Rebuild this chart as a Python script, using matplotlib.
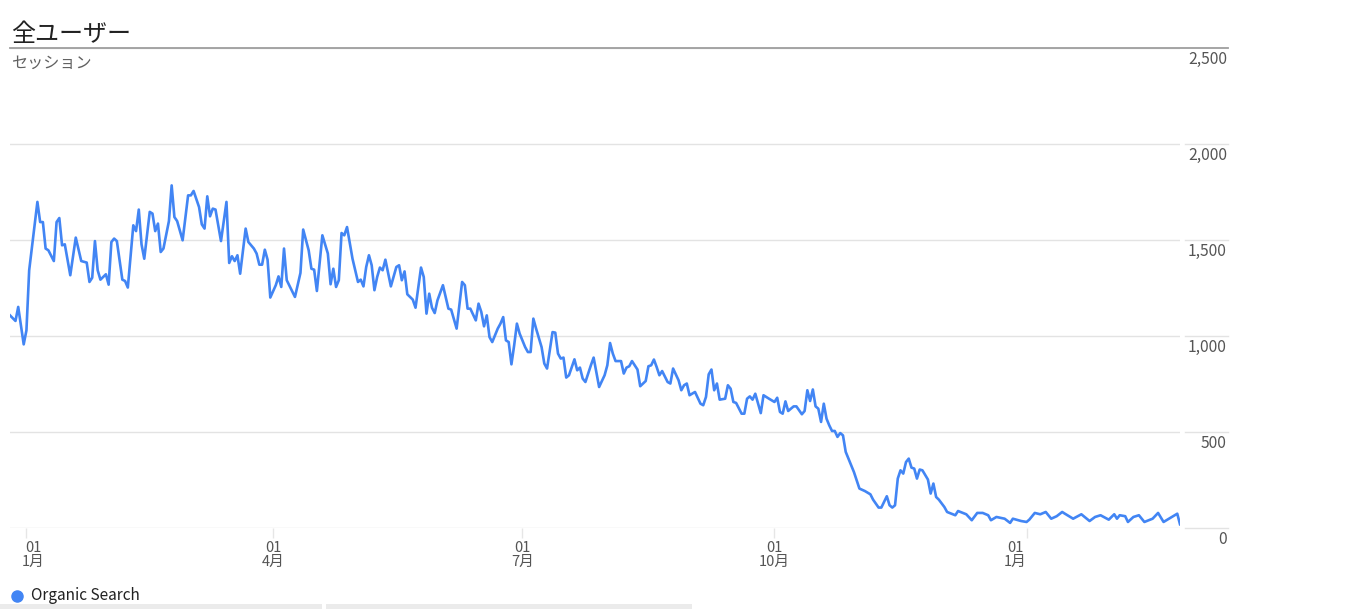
import matplotlib
matplotlib.use("Agg")
import matplotlib.pyplot as plt
from matplotlib.transforms import ScaledTranslation, blended_transform_factory
from matplotlib.lines import Line2D
from matplotlib.patches import Rectangle
import pandas as pd

plt.rcParams['font.family'] = ['Noto Sans CJK JP', 'DejaVu Sans']

# ---------------- data ----------------
title = "全ユーザー"
metric = "セッション"
series_name = "Organic Search"
start_date = "2018-01-01"

day_offsets = [
    -6, -4, -3, -1, 0, 1, 4, 5, 6, 7, 8, 10, 11, 12, 13, 14, 16, 18, 20, 22, 23, 24, 25, 26, 27, 29, 30,
    31, 32, 33, 35, 36, 37, 39, 40, 41, 42,
    43, 45, 46, 47, 48, 49, 50, 52, 53, 54, 55, 57, 59, 60, 61, 63, 64, 65, 66, 67, 68, 69, 71, 73, 74,
    75, 76, 77, 78, 80, 81, 83, 84, 85, 86, 87, 88, 89, 91, 92, 93, 94, 95, 98, 100, 101, 103, 104, 105,
    106, 108, 110, 111, 112, 113, 114, 115, 116, 117, 119, 121, 122, 123, 124, 125, 126, 127, 128, 129,
    130, 131, 133, 135, 136, 137, 138, 139, 140, 141, 142, 144, 145, 146, 147, 148, 149, 150, 152, 153,
    154, 155, 157, 159, 160, 161, 162, 164, 165, 166, 167, 168, 169, 170, 172, 173, 174, 175, 176, 177,
    178, 179,
    180, 182, 183, 184, 185, 186, 188, 189, 190, 192, 193, 194, 195, 196, 197, 198, 200, 201, 202, 203,
    204, 206, 207, 209, 211, 212, 213, 214, 215, 217, 218, 219, 220, 221, 223, 224, 226, 227, 228, 229,
    230, 231, 232, 234, 235, 236, 238, 239, 240, 241, 242, 244, 246, 247, 248, 249, 250, 251, 252, 253,
    255, 256, 257, 258, 259, 261, 262, 263, 264, 265, 266, 268, 269, 271, 273, 274, 275, 276, 277, 278,
    280, 281, 283, 284, 285, 286, 287, 288, 289, 290, 291, 292, 293, 294, 295, 296, 297, 298, 299, 301,
    302, 304, 306, 308, 309, 311, 312, 314, 315, 316, 317,
    318, 319, 320, 321, 322, 323, 324, 325, 326, 327, 329, 330, 331, 332, 333, 335, 336, 339, 340, 343,
    345, 347, 349, 351, 352, 354, 357, 359, 360, 363, 365, 366, 368, 370, 372, 374, 376, 378, 379, 382,
    385, 388, 390, 392, 395, 397, 398, 399, 401, 402, 404, 406, 408, 411, 413, 415, 417, 420, 421,
]

sessions = [
    1109, 1080, 1153, 958, 1031, 1344, 1700, 1595, 1595, 1457, 1448, 1392, 1595, 1616, 1474, 1479, 1318,
    1514, 1392, 1384, 1283, 1305, 1496, 1344, 1295, 1323, 1269, 1491, 1509, 1496, 1295, 1288, 1254, 1578,
    1548, 1660, 1479,
    1404, 1648, 1639, 1548, 1587, 1439, 1457, 1600, 1786, 1621, 1600, 1500, 1734, 1734, 1757, 1673, 1583,
    1561, 1729, 1625, 1665, 1660, 1496, 1700, 1382, 1417, 1392, 1422, 1326, 1561, 1491, 1457, 1431, 1373,
    1373, 1451, 1399, 1202, 1266, 1312, 1257, 1457, 1292, 1205, 1330, 1556, 1448, 1352, 1347, 1236, 1526,
    1431, 1271, 1352, 1257, 1292, 1538, 1526, 1569, 1404, 1283, 1295, 1260, 1361, 1422, 1370, 1240, 1309,
    1358, 1344, 1399, 1260, 1361, 1370, 1292, 1338, 1219, 1205, 1191, 1149, 1358, 1309, 1118, 1222, 1149,
    1121, 1187, 1266, 1205, 1144, 1139, 1040, 1283, 1266, 1144, 1144, 1083, 1170, 1127, 1052, 1109, 996,
    970, 1040, 1066, 1100, 979, 970, 854, 953, 1066,
    1014, 944, 918, 918, 1092, 1040, 944, 858, 832, 1022, 1019, 910, 884, 889, 785, 797, 880, 823, 837,
    780, 762, 849, 889, 736, 797, 849, 965, 910, 871, 871, 806, 837, 844, 871, 827, 740, 767, 844, 849,
    879, 840, 797, 819, 762, 754, 832, 771, 719, 745, 754, 693, 710, 649, 641, 684, 802, 827, 719, 754,
    670, 675, 745, 727, 658, 653, 597, 597, 675, 687, 670, 701, 600, 693, 675, 658, 680, 606, 597, 661,
    611, 635, 635, 594, 611, 719, 663, 723, 635, 623, 554, 649, 571, 536, 507, 507, 476, 496, 484, 398,
    328, 293, 207, 194, 177, 149, 108, 108, 167, 120, 108, 120,
    259, 302, 285, 345, 363, 316, 311, 259, 306, 302, 254, 181, 233, 163, 149, 111, 85, 68, 90, 73,
    42, 80, 80, 68, 42, 59, 50, 28, 50, 38, 33, 45, 80, 73, 85, 50, 63, 85, 76, 50,
    73, 38, 59, 68, 45, 73, 50, 68, 63, 33, 59, 68, 33, 50, 80, 33, 50, 76, 21,
]

y_ticks = [0, 500, 1000, 1500, 2000, 2500]
x_tick_dates = ["2018-01-01", "2018-04-01", "2018-07-01", "2018-10-01", "2019-01-01"]
x_tick_labels = ["01\n1月", "01\n4月", "01\n7月", "01\n10月", "01\n1月"]

# ---------------- figure ----------------
W, H = 1367, 609
fig = plt.figure(figsize=(W / 100, H / 100), dpi=100)
fig.patch.set_facecolor("white")

L, R, B, T = 10, 1180, 528.3, 48.3
ax = fig.add_axes([L / W, 1 - B / H, (R - L) / W, (B - T) / H])

dates = pd.to_datetime(start_date) + pd.to_timedelta(day_offsets, unit="D")
line_color = "#4285f4"
ax.plot(dates, sessions, color=line_color, lw=1.9, zorder=3)

ax.set_xlim(dates[0], dates[-1])
ax.set_ylim(0, 2500)

for s in ax.spines.values():
    s.set_visible(False)

grid_color = "#e3e3e3"
ax.set_yticks(y_ticks)
ax.set_yticklabels([f"{v:,}" for v in y_ticks])
ax.yaxis.grid(True, color=grid_color, lw=1.0)
ax.set_axisbelow(True)
ax.yaxis.tick_right()
ax.tick_params(axis="y", length=0, pad=33.8, labelsize=11.3, labelcolor="#555555")
for lab in ax.get_yticklabels():
    lab.set_horizontalalignment("right")
    lab.set_transform(lab.get_transform() + ScaledTranslation(0, -9 / 100, fig.dpi_scale_trans))

ax.set_xticks(pd.to_datetime(x_tick_dates))
ax.set_xticklabels(x_tick_labels)
ax.tick_params(axis="x", length=7, width=1, color="#e6e6e6", pad=2,
               labelsize=10.5, labelcolor="#555555")
label_shift_px = [7, 0, 0, 0, -11]
for lab, dx in zip(ax.get_xticklabels(), label_shift_px):
    lab.set_linespacing(1.05)
    lab.set_horizontalalignment("center")
    lab.set_multialignment("center")
    lab.set_transform(lab.get_transform() + ScaledTranslation(dx / 100, 0, fig.dpi_scale_trans))

# grid segments under the value labels
btf = blended_transform_factory(fig.transFigure, ax.transData)
for v in y_ticks[:-1]:
    fig.add_artist(Line2D([1185 / W, 1228 / W], [v, v], transform=btf, color=grid_color, lw=1.0))

# title underline
fig.add_artist(Line2D([10 / W, 1228 / W], [1 - 48.3 / H] * 2, transform=fig.transFigure,
                      color="#9e9e9e", lw=1.3))

fig.text(11 / W, 1 - 34 / H, title, fontsize=17.3, va="center", ha="left", color="#212121")
fig.text(11 / W, 1 - 63 / H, metric, fontsize=11.6, va="center", ha="left", color="#616161")

# legend
fig.add_artist(Line2D([17 / W], [1 - 596 / H], marker="o", ms=8, color=line_color,
                      linestyle="none", transform=fig.transFigure))
fig.text(31 / W, 1 - 596 / H, series_name, fontsize=11.1, va="center", ha="left", color="#222222")

# bottom grey bars
fig.add_artist(Rectangle((0, 0), 322 / W, 5 / H, transform=fig.transFigure,
                         facecolor="#ebebeb", edgecolor="none"))
fig.add_artist(Rectangle((326 / W, 0), (692 - 326) / W, 5 / H, transform=fig.transFigure,
                         facecolor="#ebebeb", edgecolor="none"))

fig.savefig("out.png", dpi=100)
